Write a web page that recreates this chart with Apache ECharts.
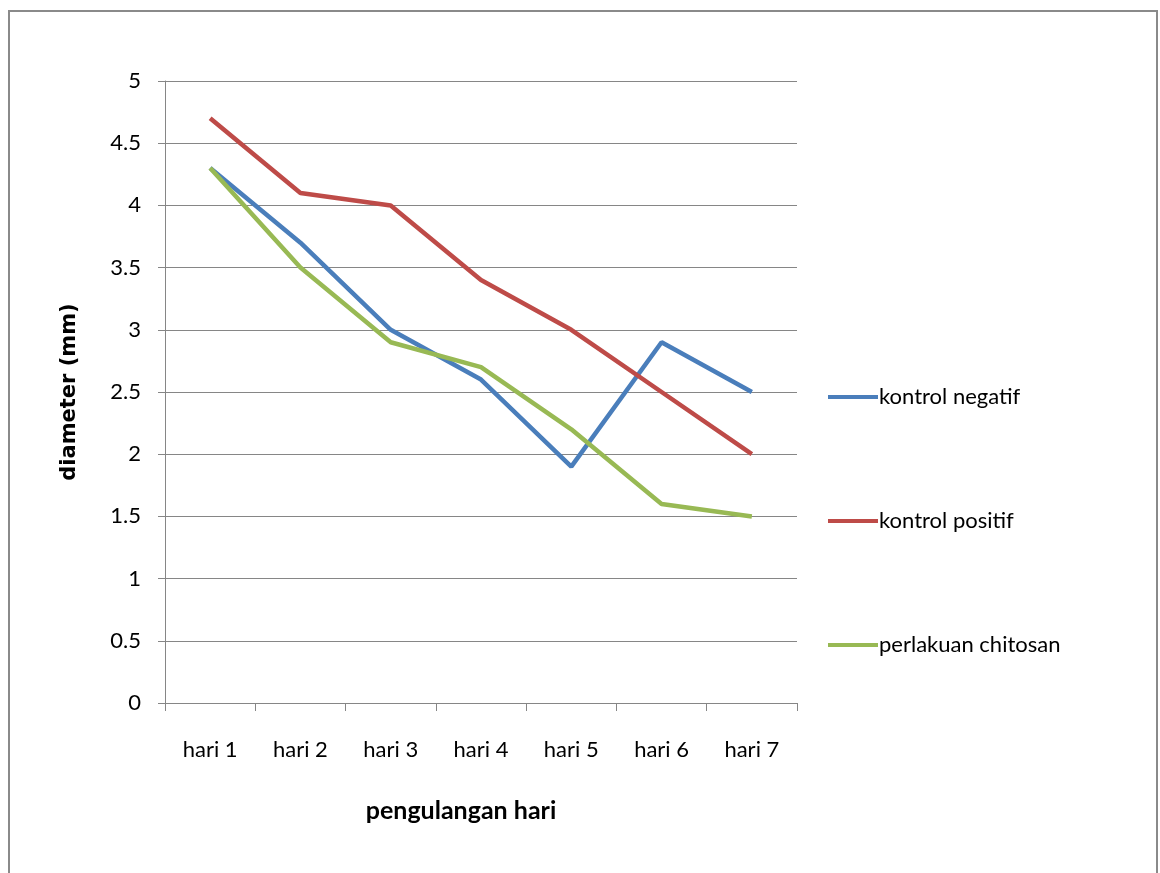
<!DOCTYPE html>
<html><head><meta charset="utf-8">
<script src="https://cdn.jsdelivr.net/npm/echarts@6/dist/echarts.min.js"></script>
<style>html,body{margin:0;padding:0;background:#fff}
#frame{position:absolute;left:8px;top:10px;width:1150px;height:880px;border:2px solid #8a8a8a;box-sizing:border-box}
#c{position:absolute;left:0;top:0;width:1160px;height:873px}</style>
</head><body>
<div id="frame"></div>
<div id="c"></div>
<script>
const categories = ['hari 1','hari 2','hari 3','hari 4','hari 5','hari 6','hari 7'];
const kontrolNegatif = [4.3, 3.7, 3.0, 2.6, 1.9, 2.9, 2.5];
const kontrolPositif = [4.7, 4.1, 4.0, 3.4, 3.0, 2.5, 2.0];
const perlakuanChitosan = [4.3, 3.5, 2.9, 2.7, 2.2, 1.6, 1.5];
const seriesNames = ['kontrol negatif','kontrol positif','perlakuan chitosan'];
const colors = ['#4A7EBB','#BE4B48','#98B954'];
const font = 'Lato, "Open Sans", sans-serif';

const chart = echarts.init(document.getElementById('c'), null, {renderer:'canvas'});
const data = [kontrolNegatif, kontrolPositif, perlakuanChitosan];
chart.setOption({
  animation:false,
  backgroundColor:'transparent',
  grid:{left:165, top:81, width:632, height:622, containLabel:false},
  xAxis:{
    type:'category', data:categories, boundaryGap:true,
    name:'pengulangan hari', nameLocation:'middle', nameGap:95,
    nameTextStyle:{fontFamily:font, fontWeight:'bold', fontSize:25, color:'#000', padding:[0,40,0,0]},
    axisLine:{lineStyle:{color:'#868686', width:1}},
    axisTick:{show:true, length:8, lineStyle:{color:'#868686'}},
    axisLabel:{fontFamily:font, fontSize:22, color:'#000', margin:36},
    splitLine:{show:false}
  },
  yAxis:{
    type:'value', min:0, max:5, interval:0.5,
    name:'diameter (mm)', nameLocation:'middle', nameGap:85,
    nameTextStyle:{fontFamily:'"DejaVu Sans", sans-serif', fontWeight:'bold', fontSize:21, color:'#000'},
    axisLine:{show:true, lineStyle:{color:'#868686', width:1}},
    axisTick:{show:true, length:7, lineStyle:{color:'#868686'}},
    axisLabel:{fontFamily:font, fontSize:22, color:'#000', margin:24},
    splitLine:{show:true, lineStyle:{color:'#868686', width:1}}
  },
  legend:{
    orient:'vertical', left:823, top:380, itemWidth:50, itemHeight:4, itemGap:100,
    icon:'rect',
    textStyle:{fontFamily:font, fontSize:22, lineHeight:24, color:'#000', padding:[0,0,0,-4]},
    data:seriesNames.map((n,i)=>({name:n, icon:'rect', itemStyle:{color:colors[i]}}))
  },
  series: seriesNames.map((n,i)=>({
    name:n, type:'line', data:data[i], symbol:'none', color:colors[i],
    lineStyle:{width:4.5, color:colors[i]}
  }))
});
</script>
</body></html>
